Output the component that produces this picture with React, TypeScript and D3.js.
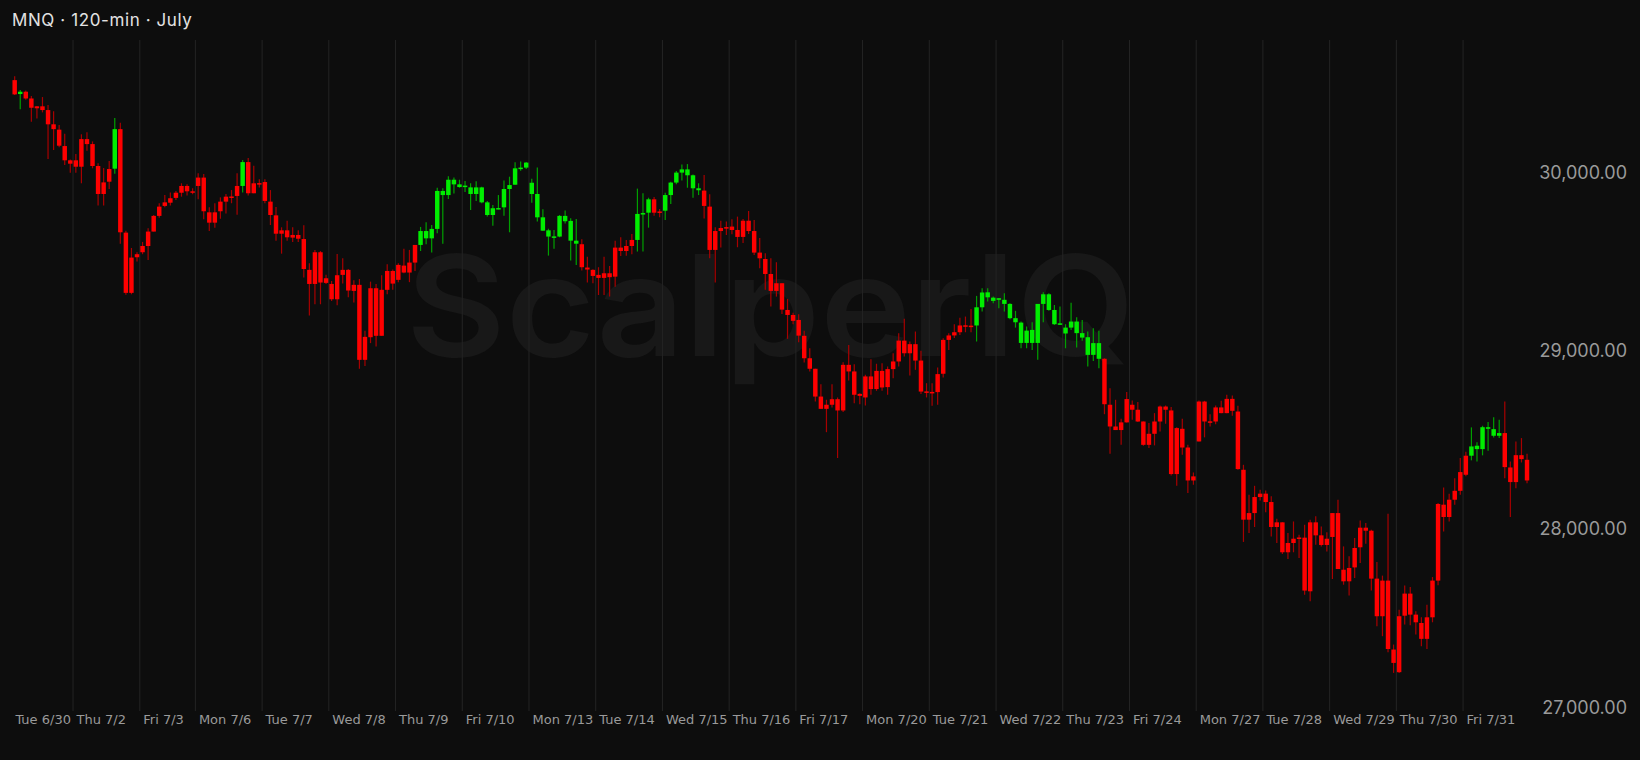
import React from 'react';
import * as d3 from 'd3';

type Bar = [number, number, number, number]; // open, high, low, close

const title = 'MNQ · 120-min · July';
const watermark = 'ScalperIQ';

const sessionLabels = [
  'Tue 6/30', 'Thu 7/2', 'Fri 7/3', 'Mon 7/6', 'Tue 7/7', 'Wed 7/8', 'Thu 7/9', 'Fri 7/10',
  'Mon 7/13', 'Tue 7/14', 'Wed 7/15', 'Thu 7/16', 'Fri 7/17', 'Mon 7/20', 'Tue 7/21', 'Wed 7/22',
  'Thu 7/23', 'Fri 7/24', 'Mon 7/27', 'Tue 7/28', 'Wed 7/29', 'Thu 7/30', 'Fri 7/31',
];

const tue0630: Bar[] = [
  [30519, 30541, 30435, 30439], [30441, 30463, 30355, 30454], [30454, 30461, 30409, 30416],
  [30416, 30430, 30286, 30364], [30361, 30374, 30304, 30372], [30372, 30424, 30338, 30351],
  [30351, 30379, 30076, 30271], [30271, 30345, 30127, 30244], [30241, 30267, 30142, 30151],
  [30149, 30218, 30043, 30069], [30069, 30074, 29999, 30050],
];
const thu0702: Bar[] = [
  [30033, 30104, 29999, 30069], [30033, 30215, 29940, 30188], [30188, 30226, 30123, 30160],
  [30160, 30175, 30024, 30037], [30037, 30052, 29815, 29880], [29880, 30026, 29815, 29945],
  [29949, 30065, 29908, 30020], [30022, 30306, 29994, 30244], [30244, 30280, 29600, 29665],
  [29663, 29674, 29314, 29325], [29325, 29577, 29317, 29523], [29525, 29553, 29501, 29542],
];
const fri0703: Bar[] = [
  [29553, 29611, 29542, 29588], [29588, 29687, 29510, 29669], [29669, 29762, 29669, 29757],
  [29757, 29828, 29747, 29809], [29813, 29874, 29805, 29833], [29831, 29889, 29816, 29856],
  [29858, 29897, 29846, 29887], [29887, 29940, 29865, 29925], [29925, 29934, 29871, 29895],
  [29895, 29912, 29878, 29887],
];
const mon0706: Bar[] = [
  [29925, 29996, 29850, 29972], [29972, 29992, 29738, 29783], [29777, 29805, 29672, 29719],
  [29719, 29828, 29691, 29777], [29783, 29861, 29741, 29837], [29837, 29880, 29770, 29865],
  [29866, 29902, 29828, 29863], [29869, 29996, 29764, 29925], [29925, 30071, 29889, 30059],
  [30059, 30082, 29871, 29884], [29884, 30039, 29884, 29940], [29941, 29962, 29917, 29938],
];
const tue0707: Bar[] = [
  [29947, 29962, 29828, 29841], [29837, 29902, 29706, 29762], [29760, 29807, 29618, 29657],
  [29657, 29693, 29545, 29676], [29676, 29730, 29618, 29637], [29635, 29693, 29611, 29650],
  [29650, 29676, 29611, 29629], [29627, 29704, 29411, 29459], [29454, 29491, 29198, 29375],
  [29375, 29566, 29261, 29553], [29553, 29560, 29261, 29383], [29381, 29426, 29375, 29407],
];
const wed0708: Bar[] = [
  [29375, 29392, 29280, 29289], [29289, 29543, 29256, 29424], [29426, 29519, 29377, 29454],
  [29454, 29459, 29300, 29338], [29336, 29396, 29271, 29370], [29370, 29403, 28899, 28949],
  [28949, 29112, 28914, 29078], [29076, 29388, 29043, 29351], [29351, 29375, 29024, 29084],
  [29084, 29424, 29084, 29342], [29342, 29486, 29317, 29448], [29448, 29456, 29342, 29377],
];
const thu0709: Bar[] = [
  [29398, 29491, 29385, 29482], [29478, 29572, 29435, 29439], [29439, 29566, 29385, 29495],
  [29495, 29594, 29448, 29594], [29594, 29695, 29560, 29672], [29672, 29721, 29598, 29631],
  [29631, 29706, 29551, 29684], [29684, 29915, 29659, 29897], [29897, 29912, 29601, 29874],
  [29874, 29979, 29852, 29960], [29960, 29972, 29882, 29934], [29934, 29960, 29915, 29919],
];
const fri0710: Bar[] = [
  [29921, 29953, 29891, 29927], [29917, 29940, 29790, 29880], [29880, 29951, 29841, 29917],
  [29917, 29921, 29828, 29833], [29833, 29841, 29753, 29762], [29762, 29818, 29702, 29800],
  [29801, 29874, 29794, 29798], [29805, 29955, 29758, 29908], [29908, 29977, 29665, 29930],
  [29932, 30058, 29932, 30024], [30022, 30063, 30011, 30028], [30028, 30059, 30020, 30056],
];
const mon0713: Bar[] = [
  [29943, 29966, 29831, 29880], [29880, 30029, 29725, 29749], [29749, 29794, 29674, 29674],
  [29676, 29685, 29534, 29641], [29642, 29678, 29573, 29640], [29641, 29762, 29637, 29757],
  [29757, 29787, 29715, 29727], [29729, 29744, 29506, 29618], [29618, 29740, 29482, 29601],
  [29598, 29626, 29450, 29469], [29467, 29528, 29383, 29456], [29454, 29458, 29379, 29420],
];
const tue0714: Bar[] = [
  [29426, 29469, 29313, 29409], [29409, 29528, 29313, 29435], [29435, 29476, 29304, 29413],
  [29416, 29618, 29360, 29579], [29579, 29637, 29532, 29560], [29560, 29622, 29534, 29588],
  [29588, 29656, 29542, 29622], [29622, 29910, 29557, 29768], [29771, 29884, 29557, 29773],
  [29775, 29859, 29691, 29850], [29850, 29863, 29758, 29775], [29780, 29796, 29749, 29782],
];
const wed0715: Bar[] = [
  [29786, 29887, 29734, 29874], [29874, 29949, 29824, 29944], [29944, 30009, 29934, 30000],
  [30000, 30046, 29955, 30018], [30018, 30048, 29915, 29985], [29985, 29990, 29859, 29912],
  [29912, 29940, 29874, 29901], [29899, 29987, 29743, 29813], [29809, 29878, 29519, 29566],
  [29566, 29693, 29383, 29672], [29672, 29730, 29579, 29689], [29692, 29725, 29650, 29694],
];
const thu0716: Bar[] = [
  [29697, 29738, 29654, 29678], [29678, 29753, 29581, 29639], [29639, 29740, 29605, 29730],
  [29730, 29785, 29656, 29672], [29672, 29734, 29538, 29551], [29551, 29633, 29463, 29519],
  [29515, 29547, 29342, 29431], [29431, 29519, 29248, 29336], [29336, 29497, 29304, 29379],
  [29379, 29379, 29207, 29231], [29229, 29291, 29067, 29201], [29201, 29214, 29149, 29168],
];
const fri0717: Bar[] = [
  [29173, 29205, 29048, 29085], [29084, 29112, 28934, 28958], [28958, 29014, 28884, 28899],
  [28899, 28899, 28715, 28743], [28743, 28812, 28674, 28674], [28674, 28725, 28543, 28697],
  [28697, 28812, 28682, 28728], [28728, 28738, 28398, 28665], [28665, 28936, 28656, 28921],
  [28921, 29033, 28833, 28884], [28884, 28925, 28706, 28753], [28758, 28762, 28700, 28747],
];
const mon0720: Bar[] = [
  [28738, 28865, 28693, 28856], [28856, 28953, 28753, 28785], [28785, 28927, 28775, 28887],
  [28887, 28930, 28775, 28794], [28796, 28912, 28753, 28897], [28897, 28986, 28846, 28940],
  [28940, 29099, 28912, 29057], [29057, 29179, 28968, 28986], [28986, 29052, 28861, 29037],
  [29037, 29108, 28893, 28945], [28945, 29000, 28757, 28771], [28772, 28818, 28738, 28770],
];
const tue0721: Bar[] = [
  [28769, 28818, 28691, 28767], [28768, 28906, 28697, 28869], [28871, 29070, 28850, 29061],
  [29061, 29099, 29005, 29086], [29086, 29149, 29071, 29104], [29104, 29186, 29089, 29142],
  [29141, 29192, 29104, 29143], [29141, 29235, 29104, 29139], [29142, 29308, 29052, 29244],
  [29244, 29351, 29220, 29327], [29328, 29351, 29276, 29300], [29298, 29304, 29267, 29280],
];
const wed0722: Bar[] = [
  [29286, 29295, 29239, 29295], [29286, 29323, 29220, 29263], [29263, 29267, 29177, 29183],
  [29183, 29224, 29130, 29160], [29158, 29164, 29014, 29044], [29044, 29136, 29014, 29113],
  [29117, 29160, 29005, 29044], [29044, 29263, 28949, 29263], [29263, 29328, 29160, 29317],
  [29317, 29323, 29224, 29229], [29229, 29257, 29145, 29149], [29152, 29248, 29145, 29154],
];
const thu0723: Bar[] = [
  [29130, 29149, 29014, 29097], [29130, 29269, 29117, 29164], [29164, 29188, 29018, 29099],
  [29099, 29173, 29056, 29074], [29076, 29108, 28912, 28977], [28977, 29127, 28943, 29043],
  [29043, 29112, 28902, 28955], [28955, 28958, 28644, 28700], [28697, 28790, 28422, 28575],
  [28575, 28725, 28555, 28555], [28555, 28618, 28472, 28598], [28598, 28768, 28598, 28729],
];
const fri0724: Bar[] = [
  [28697, 28721, 28613, 28669], [28669, 28712, 28600, 28603], [28603, 28603, 28467, 28472],
  [28472, 28594, 28454, 28534], [28534, 28650, 28469, 28603], [28603, 28693, 28547, 28687],
  [28687, 28693, 28590, 28669], [28665, 28684, 28300, 28308], [28308, 28571, 28243, 28566],
  [28562, 28618, 28416, 28457], [28457, 28472, 28201, 28272], [28272, 28317, 28248, 28295],
];
const mon0727: Bar[] = [
  [28491, 28721, 28491, 28715], [28715, 28719, 28514, 28603], [28602, 28644, 28575, 28604],
  [28603, 28693, 28588, 28682], [28682, 28719, 28650, 28650], [28650, 28753, 28650, 28730],
  [28730, 28749, 28635, 28663], [28659, 28691, 28332, 28336], [28332, 28360, 27927, 28052],
  [28052, 28192, 27977, 28089], [28089, 28242, 28011, 28179], [28179, 28220, 28160, 28198],
];
const tue0728: Bar[] = [
  [28198, 28216, 28093, 28151], [28151, 28183, 27958, 28011], [28011, 28057, 27921, 28037],
  [28037, 28037, 27859, 27869], [27869, 27977, 27831, 27921], [27921, 28042, 27869, 27945],
  [27950, 27968, 27837, 27952], [27951, 28024, 27631, 27654], [27650, 28052, 27594, 28037],
  [28037, 28071, 27911, 27964], [27964, 28014, 27902, 27910], [27910, 27981, 27874, 27945],
];
const wed0729: Bar[] = [
  [27955, 28089, 27719, 28089], [28089, 28164, 27775, 27775], [27771, 27902, 27687, 27706],
  [27706, 27846, 27627, 27781], [27784, 27949, 27725, 27893], [27897, 28048, 27809, 28007],
  [28007, 28033, 27917, 27990], [27990, 27996, 27655, 27721], [27721, 27814, 27454, 27510],
  [27510, 27738, 27398, 27710], [27710, 28085, 27308, 27326], [27323, 27351, 27192, 27248],
];
const thu0730: Bar[] = [
  [27196, 27547, 27192, 27510], [27513, 27683, 27463, 27637], [27637, 27674, 27459, 27519],
  [27519, 27538, 27407, 27476], [27472, 27504, 27341, 27383], [27383, 27575, 27326, 27504],
  [27504, 27730, 27476, 27710], [27710, 28145, 27684, 28140], [28136, 28233, 27986, 28067],
  [28067, 28198, 28042, 28164], [28164, 28285, 28136, 28214], [28214, 28398, 28192, 28319],
];
const fri0731: Bar[] = [
  [28304, 28433, 28295, 28411], [28411, 28570, 28385, 28463], [28467, 28487, 28379, 28448],
  [28448, 28579, 28413, 28571], [28571, 28600, 28439, 28562], [28560, 28627, 28513, 28523],
  [28523, 28613, 28510, 28538], [28538, 28715, 28285, 28347], [28345, 28379, 28067, 28263],
  [28263, 28491, 28229, 28414], [28414, 28510, 28373, 28392], [28388, 28422, 28257, 28272],
];

const sessionBars: Bar[][] = [
  tue0630, thu0702, fri0703, mon0706, tue0707, wed0708, thu0709, fri0710, mon0713, tue0714,
  wed0715, thu0716, fri0717, mon0720, tue0721, wed0722, thu0723, fri0724, mon0727, tue0728,
  wed0729, thu0730, fri0731,
];

// bar-index ranges where the trend regime is "long" (green)
const greenRuns: [number, number][] = [
  [1, 1], [18, 18], [41, 41], [73, 101], [112, 114], [117, 123], [173, 195], [262, 267],
];

const yTicks = [27000, 28000, 29000, 30000];

const W = 1640;
const H = 760;

export default function App() {
  const bars: { i: number; o: number; h: number; l: number; c: number }[] = [];
  const sessionStarts: number[] = [];
  sessionBars.forEach((s) => {
    sessionStarts.push(bars.length);
    s.forEach(([o, h, l, c]) => bars.push({ i: bars.length, o, h, l, c }));
  });
  const n = bars.length;
  const isGreen = (i: number) => greenRuns.some(([a, b]) => i >= a && i <= b);

  const x = d3.scaleLinear().domain([-0.5, n - 0.5]).range([11.9, 1529.8]);
  const step = x(1) - x(0);
  const bodyW = step * 0.8;
  const y = d3.scaleLinear().domain([27000, 30000]).range([707.1, 172.6]);
  const fmt = d3.format(',.2f');

  const plotTop = 40;
  const plotBottom = 711;

  const RED = '#ff0000';
  const RED_WICK = '#a80000';
  const GREEN = '#00ee00';
  const GREEN_WICK = '#00a000';

  return (
    <svg
      width={W}
      height={H}
      style={{ position: 'absolute', left: 0, top: 0, display: 'block' }}
      xmlns="http://www.w3.org/2000/svg"
    >
      <rect x={0} y={0} width={W} height={H} fill="#0d0d0d" />
      {/* watermark */}
      <text
        x={406}
        y={356}
        fontFamily="Inter, 'Noto Sans', sans-serif"
        fontWeight={600}
        fontSize={140}
        fill="#181818"
        textLength={729}
        lengthAdjust="spacingAndGlyphs"
      >
        {watermark}
      </text>
      {/* session gridlines */}
      {sessionStarts.slice(1).map((s, k) => (
        <line
          key={'g' + k}
          x1={x(s) - step / 2}
          x2={x(s) - step / 2}
          y1={plotTop}
          y2={plotBottom}
          stroke="#242424"
          strokeWidth={1}
        />
      ))}
      {/* candles */}
      {bars.map((b) => {
        const g = isGreen(b.i);
        const cx = x(b.i);
        const top = y(Math.max(b.o, b.c));
        const bot = y(Math.min(b.o, b.c));
        return (
          <g key={b.i}>
            <line
              x1={cx}
              x2={cx}
              y1={y(b.h)}
              y2={y(b.l)}
              stroke={g ? GREEN_WICK : RED_WICK}
              strokeWidth={1.2}
            />
            <rect
              x={cx - bodyW / 2}
              y={top}
              width={bodyW}
              height={Math.max(1.5, bot - top)}
              fill={g ? GREEN : RED}
            />
          </g>
        );
      })}
      {/* title */}
      <text
        x={12}
        y={26}
        fontFamily="Inter, 'Noto Sans', sans-serif"
        fontSize={17}
        letterSpacing={0.6}
        fill="#e2e2e2"
      >
        {title}
      </text>
      {/* y axis labels */}
      {yTicks.map((t) => (
        <text
          key={t}
          x={1627}
          y={y(t)}
          dy="0.36em"
          textAnchor="end"
          fontFamily="Inter, 'Noto Sans', sans-serif"
          fontSize={18}
          fill="#9a9a9a"
        >
          {fmt(t)}
        </text>
      ))}
      {/* x axis labels */}
      {sessionStarts.map((s, k) => (
        <text
          key={'x' + k}
          x={x(s) - step / 2 + 3.5}
          y={724}
          fontFamily="'DejaVu Sans', sans-serif"
          fontSize={13}
          fill="#9a9a9a"
        >
          {sessionLabels[k]}
        </text>
      ))}
    </svg>
  );
}
